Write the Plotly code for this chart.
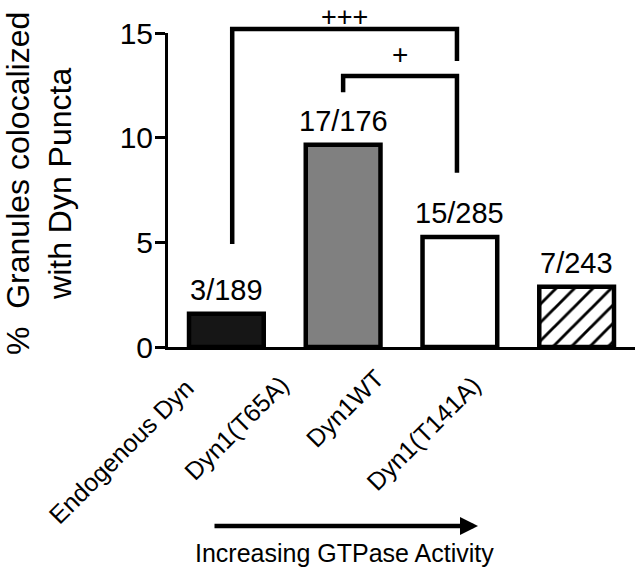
import plotly.graph_objects as go

# ---- data ----
categories = ["Endogenous Dyn", "Dyn1(T65A)", "Dyn1WT", "Dyn1(T141A)"]
values = [1.59, 9.66, 5.26, 2.88]
count_labels = ["3/189", "17/176", "15/285", "7/243"]
bar_colors = ["#161616", "#808080", "#ffffff", "#ffffff"]
hatched = [False, False, False, True]
y_ticks = [0, 5, 10, 15]
y_max = 15
# comparison brackets: (left cat, right cat, left foot, top, right foot, label)
brackets = [
    (0.05, 1.975, 4.92, 15.19, 13.66, "+++"),
    (1.0, 1.975, 12.17, 12.95, 8.33, "+"),
]
y_title = "%\u00a0\u00a0Granules colocalized<br>with Dyn Puncta"
arrow_text = "Increasing GTPase Activity"

FONT = "Liberation Sans, Arial, sans-serif"

W, H = 638, 571
ML, MR, MT, MB = 168, 3, 33, 224
PW = W - ML - MR
PH = H - MT - MB


def px_x(px):
    return (px - ML) / PW


def px_y(py):
    return (H - MB - py) / PH


fig = go.Figure()
plain_idx = [i for i, h in enumerate(hatched) if not h]
hatch_idx = [i for i, h in enumerate(hatched) if h]
fig.add_trace(go.Bar(
    x=plain_idx,
    y=[values[i] for i in plain_idx],
    width=0.64,
    marker=dict(color=[bar_colors[i] for i in plain_idx],
                line=dict(color="black", width=4.5)),
    hoverinfo="skip",
))
fig.add_trace(go.Bar(
    x=hatch_idx,
    y=[values[i] for i in hatch_idx],
    width=0.64,
    marker=dict(color="white",
                line=dict(color="black", width=4.5),
                pattern=dict(shape="/", fgcolor="black", bgcolor="white",
                             size=13, solidity=0.22, fillmode="replace")),
    hoverinfo="skip",
))

annotations = []
# counts above bars
for i, (v, t) in enumerate(zip(values, count_labels)):
    annotations.append(dict(x=i, y=v, xref="x", yref="y", text=t, showarrow=False,
                            yanchor="bottom", yshift=6,
                            font=dict(size=29, color="black", family=FONT)))

# rotated category labels
label_shift = [(-105, -104), (-107, -81), (-115, -61), (-153, -86)]
for i, (c, (dx, dy)) in enumerate(zip(categories, label_shift)):
    annotations.append(dict(x=i, y=0, xref="x", yref="paper", text=c, showarrow=False,
                            textangle=-45, xanchor="center", yanchor="middle",
                            xshift=dx, yshift=dy,
                            font=dict(size=25, color="black", family=FONT)))

# brackets
shapes = []
for (x0, x1, yl, yt, yr, lab) in brackets:
    path = "M {a},{b} L {a},{c} L {d},{c} L {d},{e}"
    shapes.append(dict(type="path", xref="x", yref="paper",
                       path=path.format(a=x0, b=yl / y_max, c=yt / y_max, d=x1, e=yr / y_max),
                       line=dict(color="black", width=4.5)))
    if lab == "+++":
        # top label kept inside the page
        annotations.append(dict(x=(x0 + x1) / 2, y=px_y(0), xref="x", yref="paper",
                                text=lab, showarrow=False, yanchor="top",
                                font=dict(size=27, color="black", family=FONT)))
    else:
        annotations.append(dict(x=(x0 + x1) / 2, y=yt / y_max, xref="x", yref="paper",
                                text=lab, showarrow=False, yanchor="middle", yshift=21,
                                font=dict(size=28, color="black", family=FONT)))

# y-axis title
annotations.append(dict(x=px_x(39), y=px_y(184), xref="paper", yref="paper",
                        text=y_title, showarrow=False, textangle=-90,
                        xanchor="center", yanchor="middle",
                        font=dict(size=32, color="black", family=FONT)))

# arrow
annotations.append(dict(x=px_x(478), y=px_y(526), xref="paper", yref="paper",
                        text="", showarrow=True, ax=-265, ay=0,
                        arrowhead=2, arrowwidth=4.5, arrowsize=0.8,
                        arrowcolor="black", standoff=0, startstandoff=0))
annotations.append(dict(x=px_x(344), y=px_y(553), xref="paper", yref="paper",
                        text=arrow_text, showarrow=False,
                        xanchor="center", yanchor="middle",
                        font=dict(size=25, color="black", family=FONT)))

fig.update_layout(
    width=W, height=H,
    margin=dict(l=ML, r=MR, t=MT, b=MB, pad=0),
    paper_bgcolor="white", plot_bgcolor="white",
    showlegend=False,
    barmode="overlay",
    shapes=shapes,
    annotations=annotations,
)
fig.update_xaxes(range=[-0.5, 3.5], showline=True, linecolor="black", linewidth=3,
                 showticklabels=False, ticks="", showgrid=False, zeroline=False)
fig.update_yaxes(range=[0, y_max], tickvals=y_ticks, showline=True, linecolor="black",
                 linewidth=3, ticks="outside", ticklen=10, tickwidth=3, tickcolor="black",
                 showgrid=False, zeroline=False, ticklabelstandoff=-4,
                 tickfont=dict(size=30, color="black", family=FONT))

fig.write_html("out.html", config={"displayModeBar": False},
               post_script="document.body.style.margin='0px';")
